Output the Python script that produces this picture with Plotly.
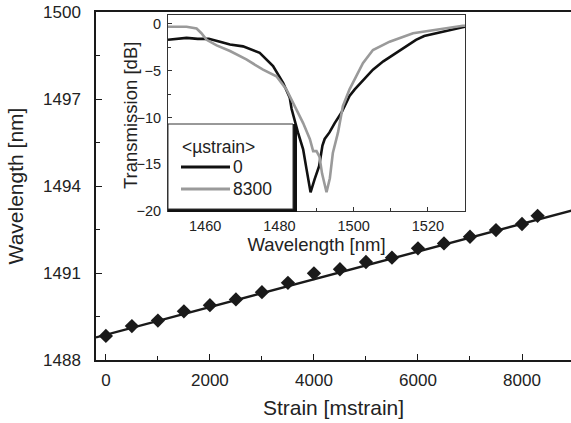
import plotly.graph_objects as go

# ---------------- data ----------------
strain = [0, 500, 1000, 1500, 2000, 2500, 3000, 3500, 4000, 4500, 5000,
          5500, 6000, 6500, 7000, 7500, 8000, 8300]
peak_wl = [1488.83, 1489.17, 1489.36, 1489.68, 1489.89, 1490.09, 1490.34,
           1490.66, 1490.99, 1491.13, 1491.38, 1491.53, 1491.85, 1492.02,
           1492.25, 1492.48, 1492.69, 1492.97]
fit_strain = [-190, 8950]
fit_wl = [1488.78, 1493.15]

wl_0 = [1450, 1453, 1455, 1458, 1461, 1464, 1466.7, 1470.2, 1474.7, 1478.3,
        1481, 1482.8, 1483.3, 1485, 1486.4, 1487.3, 1488.4, 1489.5, 1490.7,
        1491.6, 1492.2, 1493.5, 1494.9, 1496.7, 1498.9, 1500.3, 1503, 1505.2,
        1508, 1511.5, 1514, 1516.8, 1519, 1522.2, 1526, 1529.4, 1530]
db_0 = [-1.7, -1.6, -1.5, -1.6, -1.6, -1.9, -2.2, -2.4, -3.1, -4.5,
        -6.3, -7.9, -9.1, -11.6, -13.4, -15.5, -18.0, -16.6, -15.2,
        -13.0, -12.3, -11.6, -10.6, -9.5, -7.7, -7.0, -5.8, -4.9,
        -4.0, -3.1, -2.4, -1.7, -1.3, -1.0, -0.6, -0.35, -0.3]

wl_8300 = [1450, 1455, 1457.7, 1459, 1460.4, 1463.1, 1466.7, 1471.1, 1475.6,
           1479.2, 1481.9, 1484.6, 1486.4, 1488.2, 1489.1, 1490, 1490.8,
           1491.5, 1492.7, 1493.6, 1494.4, 1495.8, 1497.1, 1498.9, 1502.5,
           1505.2, 1509.7, 1516, 1522.2, 1529.4, 1530]
db_8300 = [-0.3, -0.3, -0.5, -1.0, -1.7, -2.3, -2.9, -3.8, -4.9,
           -5.6, -7.0, -9.1, -10.6, -12.3, -13.6, -13.6, -14.2,
           -16.0, -18.0, -16.5, -13.8, -11.6, -8.8, -7.0, -4.2,
           -2.8, -1.9, -1.0, -0.6, -0.2, -0.2]

series_names = ["0", "8300"]
series_colors = ["#111111", "#9a9a9a"]
legend_title = "&lt;µstrain&gt;"

main_xticks = [0, 2000, 4000, 6000, 8000]
main_yticks = [1488, 1491, 1494, 1497, 1500]
inset_xticks = [1460, 1480, 1500, 1520]
inset_yticks = [0, -5, -10, -15, -20]

# ---------------- layout geometry ----------------
W, H = 571, 423
L, R, T, B = 96, 0, 12, 63
PW, PH = W - L - R, H - T - B

def px(x):
    return (x - L) / PW

def py(y):
    return (H - B - y) / PH

FONT = "Liberation Sans, Arial, sans-serif"
INK = "#1a1a1a"

fig = go.Figure()

# main plot
fig.add_trace(go.Scatter(x=fit_strain, y=fit_wl, mode="lines",
                         line=dict(color=INK, width=2.4),
                         showlegend=False, xaxis="x", yaxis="y"))
fig.add_trace(go.Scatter(x=strain, y=peak_wl, mode="markers",
                         marker=dict(symbol="diamond", size=11, color=INK),
                         showlegend=False, xaxis="x", yaxis="y"))

# inset
for wl, db, c in [(wl_0, db_0, series_colors[0]), (wl_8300, db_8300, series_colors[1])]:
    fig.add_trace(go.Scatter(x=wl, y=db, mode="lines",
                             line=dict(color=c, width=2.6),
                             showlegend=False, xaxis="x2", yaxis="y2"))

ix0, ix1, iy0, iy1 = 168, 465, 15, 211

fig.update_layout(
    width=W, height=H,
    margin=dict(l=L, r=R, t=T, b=B),
    paper_bgcolor="white", plot_bgcolor="white",
    font=dict(family=FONT, color="#222222"),
    showlegend=False,
    xaxis=dict(range=[-190, 8942], domain=[0, 1], automargin=False,
               tickvals=main_xticks, ticks="inside", ticklen=6,
               tickcolor=INK, tickwidth=1,
               minor=dict(dtick=1000, tick0=0, ticks="inside", ticklen=4, tickcolor=INK),
               showline=True, linecolor=INK, linewidth=1.5, mirror=True,
               showgrid=False, zeroline=False,
               tickfont=dict(size=17), ticklabelstandoff=4,
               title=dict(text="Strain [mstrain]", font=dict(size=21), standoff=11)),
    yaxis=dict(range=[1488, 1500], domain=[0, 1], automargin=False,
               tickvals=main_yticks, ticks="inside", ticklen=6,
               tickcolor=INK, tickwidth=1,
               minor=dict(dtick=1.5, tick0=1488, ticks="inside", ticklen=4, tickcolor=INK),
               showline=True, linecolor=INK, linewidth=1.5, mirror=False,
               showgrid=False, zeroline=False,
               tickfont=dict(size=17), ticklabelstandoff=10,
               title=dict(text="Wavelength [nm]", font=dict(size=21), standoff=14)),
    xaxis2=dict(range=[1450, 1530], domain=[px(ix0), px(ix1)], anchor="y2", automargin=False,
                tickvals=inset_xticks, ticks="inside", ticklen=4,
                tickcolor="#333", tickwidth=1,
                minor=dict(dtick=10, tick0=1450, ticks="inside", ticklen=3, tickcolor="#333"),
                showline=True, linecolor="#333", linewidth=1, mirror=True,
                showgrid=False, zeroline=False,
                tickfont=dict(size=14.5), ticklabelstandoff=2,
                title=dict(text="Wavelength [nm]", font=dict(size=18.5), standoff=0)),
    yaxis2=dict(range=[-20, 0.95], domain=[py(iy1), py(iy0)], anchor="x2", automargin=False,
                tickvals=inset_yticks, ticks="inside", ticklen=4,
                tickcolor="#333", tickwidth=1,
                minor=dict(dtick=2.5, tick0=0, ticks="inside", ticklen=3, tickcolor="#333"),
                showline=True, linecolor="#333", linewidth=1, mirror=True,
                showgrid=False, zeroline=False,
                tickfont=dict(size=14.5), ticklabelstandoff=3),
)

# inset y-axis title
fig.add_annotation(x=px(131), y=py(116), xref="paper", yref="paper",
                   text="Transmission [dB]", textangle=-90, showarrow=False,
                   xanchor="center", yanchor="middle",
                   font=dict(size=18.5, color="#222"))

# manual legend box inside inset (with shadow border)
lx0, lx1, ly0, ly1 = 168, 297, 124, 212
fig.add_shape(type="rect", xref="paper", yref="paper",
              x0=px(lx0), x1=px(lx1), y0=py(ly1), y1=py(ly0),
              fillcolor="#111111", line=dict(width=0), layer="above")
fig.add_shape(type="rect", xref="paper", yref="paper",
              x0=px(lx0), x1=px(lx1 - 4), y0=py(ly1 - 3), y1=py(ly0),
              fillcolor="white", line=dict(color="#333", width=1), layer="above")
fig.add_annotation(x=px(180), y=py(147), xref="paper", yref="paper",
                   text=legend_title, showarrow=False, xanchor="left", yanchor="middle",
                   font=dict(size=17.5, color="#222"))
for i, (name, c) in enumerate(zip(series_names, series_colors)):
    yy = 167 + 22 * i
    fig.add_shape(type="line", xref="paper", yref="paper",
                  x0=px(181), x1=px(230), y0=py(yy), y1=py(yy),
                  line=dict(color=c, width=3), layer="above")
    fig.add_annotation(x=px(231), y=py(yy), xref="paper", yref="paper",
                       text=name, showarrow=False, xanchor="left", yanchor="middle",
                       font=dict(size=17.5, color="#222"))

fig.write_html("out.html", config={"displayModeBar": False},
               post_script="document.body.style.margin='0';")
